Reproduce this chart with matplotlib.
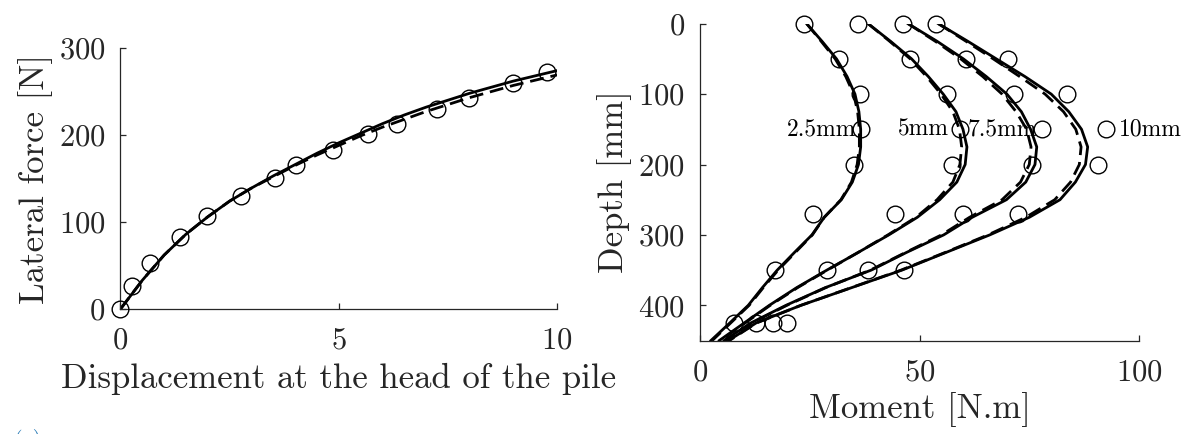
import numpy as np
import matplotlib
matplotlib.use("Agg")
import matplotlib.pyplot as plt

plt.rcParams["font.family"] = ["cmr10", "DejaVu Serif"]
plt.rcParams["mathtext.fontset"] = "cm"
plt.rcParams["axes.formatter.use_mathtext"] = True

# --- left panel: lateral force vs head displacement
disp_exp = [0, 0.26, 0.68, 1.36, 1.99, 2.75, 3.54, 4.02, 4.87, 5.68, 6.33, 7.26, 7.98, 8.99, 9.78]
force_exp = [0, 26, 52.7, 83.3, 107, 130, 151, 165, 183, 200.6, 213, 229.7, 242.6, 259.8, 272.4]

disp_mod = [0, 0.5, 1, 1.5, 2, 2.5, 3, 3.5, 4, 4.5, 5, 5.5, 6, 6.5, 7, 7.5, 8, 8.5, 9, 9.5, 10]
force_solid = [0, 33, 62, 86, 106, 124, 139, 153, 166, 179, 191, 202, 213, 223, 232, 240, 248, 255, 262, 268, 274]
force_dash = [0, 33, 62, 86, 106, 124, 139, 152, 165, 177, 188, 199, 209, 218, 227, 235, 243, 250, 257, 263, 269]

# --- right panel: moment profiles along the pile
depth_exp = [0, 50, 100, 150, 200, 270, 350, 425]
mom_exp = {
    "2.5mm": [23.7, 31.7, 36.4, 36.6, 35.1, 25.8, 17.2, 7.8],
    "5mm": [36.1, 47.8, 56.2, 59.2, 57.4, 44.4, 28.9, 12.8],
    "7.5mm": [46.3, 60.7, 71.5, 77.9, 75.6, 59.9, 38.2, 16.7],
    "10mm": [53.7, 70.2, 83.5, 92.4, 90.7, 72.4, 46.4, 19.8],
}

depth_mod = [0, 25, 50, 75, 100, 125, 150, 175, 200, 225, 250, 275, 300, 325, 350, 375, 400, 425, 450]
mom_solid = {
    "2.5mm": [24.3, 27.8, 31.1, 33.5, 35.3, 36.2, 36.6, 36.6, 36.1, 34.7, 32.2, 28.3, 25.5, 21.5, 17.6, 14.2, 11.0, 6.8, 2.5],
    "5mm": [38.3, 43.4, 48.2, 52.0, 55.4, 58.3, 59.9, 60.8, 60.4, 58.5, 54.6, 49.5, 43.0, 36.0, 28.9, 22.0, 15.8, 10.1, 4.4],
    "7.5mm": [47.4, 54.0, 60.0, 65.2, 69.9, 73.2, 75.3, 76.7, 76.3, 74.2, 69.8, 62.0, 55.5, 47.0, 39.0, 28.5, 19.6, 11.6, 5.5],
    "10mm": [54.3, 61.0, 67.5, 74.0, 80.0, 84.0, 86.9, 88.3, 87.8, 85.5, 82.0, 75.0, 66.0, 56.0, 46.0, 34.5, 23.0, 12.8, 6.5],
}
mom_dash = {
    "2.5mm": [24.3, 27.6, 30.8, 33.2, 35.0, 35.9, 36.3, 36.3, 35.8, 34.5, 32.1, 28.3, 25.6, 21.7, 17.8, 14.4, 11.2, 7.0, 2.8],
    "5mm": [38.3, 43.2, 47.9, 51.6, 54.9, 57.6, 59.1, 59.6, 59.2, 57.6, 54.0, 49.2, 42.8, 36.0, 29.0, 22.2, 16.0, 10.3, 4.7],
    "7.5mm": [47.4, 53.6, 59.4, 64.4, 68.8, 72.0, 74.4, 75.4, 75.0, 73.0, 68.8, 61.4, 55.0, 46.8, 38.8, 28.6, 19.8, 11.8, 5.7],
    "10mm": [54.3, 60.6, 66.8, 72.8, 78.6, 82.8, 85.6, 86.8, 86.4, 84.4, 80.8, 74.2, 65.6, 55.8, 45.8, 34.4, 23.0, 12.9, 6.7],
}
label_x = {"2.5mm": 19.8, "5mm": 45.1, "7.5mm": 61.0, "10mm": 95.4}
label_depth = 150

ax_color = "#262626"
lw = 2.0
dash = (0, (5, 2.5))
mk = dict(marker="o", ms=12, mfc="none", mec="black", mew=1.0, ls="none", clip_on=False, zorder=3)


def matlab_style(ax):
    for s in ["top", "right"]:
        ax.spines[s].set_visible(False)
    for s in ["left", "bottom"]:
        ax.spines[s].set_color(ax_color)
        ax.spines[s].set_linewidth(0.9)
    ax.tick_params(direction="in", length=4, width=0.9, colors=ax_color,
                   labelsize=22, labelcolor=ax_color)
    ax.tick_params(axis="x", pad=13)
    ax.tick_params(axis="y", pad=11)


fig = plt.figure(figsize=(11.87, 4.34), dpi=100)

ax1 = fig.add_axes([0.1015, 0.288, 0.3678, 0.6014])
ax1.plot(disp_mod, force_solid, color="black", lw=lw, zorder=2)
ax1.plot(disp_mod, force_dash, color="black", lw=lw, ls=dash, zorder=2)
ax1.plot(disp_exp, force_exp, **mk)
ax1.set_xlim(0, 10)
ax1.set_ylim(0, 300)
ax1.set_xticks([0, 5, 10])
ax1.set_yticks([0, 100, 200, 300])
matlab_style(ax1)
ax1.set_xlabel("Displacement at the head of the pile", fontsize=25, color=ax_color, labelpad=6)
ax1.set_ylabel("Lateral force [N]", fontsize=25, color=ax_color, labelpad=4)

ax2 = fig.add_axes([0.5897, 0.2154, 0.3699, 0.73])
for key in mom_exp:
    ax2.plot(mom_solid[key], depth_mod, color="black", lw=lw, zorder=2)
    ax2.plot(mom_dash[key], depth_mod, color="black", lw=lw, ls=dash, zorder=2)
    ax2.plot(mom_exp[key], depth_exp, **mk)
    ax2.text(label_x[key], label_depth, key, fontsize=17, va="center", ha="left", color="black")
ax2.set_xlim(0, 100)
ax2.set_ylim(450, 0)
ax2.set_xticks([0, 50, 100])
ax2.set_yticks([0, 100, 200, 300, 400])
matlab_style(ax2)
ax2.set_xlabel("Moment [N.m]", fontsize=25, color=ax_color, labelpad=4)
ax2.set_ylabel("Depth [mm]", fontsize=25, color=ax_color, labelpad=4)

fig.text(0.012, 0.012, "(a)", fontsize=16, color="#2f7fb8", va="top", ha="left")

fig.savefig("out.png", dpi=100)
